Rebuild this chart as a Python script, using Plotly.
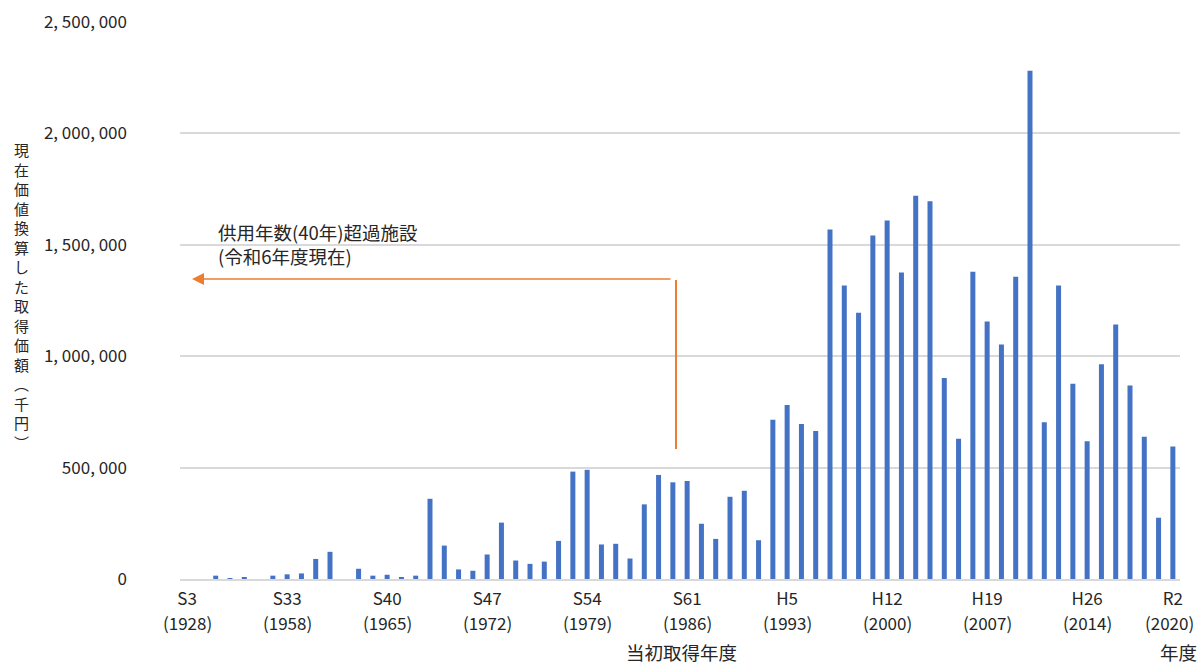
import plotly.graph_objects as go

# Acquisition year (fiscal) and the present-value acquisition cost (thousand yen)
years = ["1928"] + [str(y) for y in range(1952, 2021)]
values = [
    0,  # 1928
    0, 15000, 3000, 9000, 0, 15000,  # 1952-1957
    21000, 25000, 90000, 122000, 0, 46000, 15000,  # 1958-1964
    19000, 5000, 15000, 360000, 150000, 43000, 37000,  # 1965-1971
    110000, 253000, 83000, 68000, 78000, 171000, 482000,  # 1972-1978
    490000, 155000, 158000, 92000, 335000, 467000, 434000,  # 1979-1985
    440000, 248000, 180000, 369000, 396000, 174000, 715000,  # 1986-1992
    781000, 696000, 664000, 1569000, 1317000, 1195000, 1542000,  # 1993-1999
    1609000, 1376000, 1720000, 1696000, 902000, 629000, 1379000,  # 2000-2006
    1156000, 1052000, 1357000, 2281000, 703000, 1317000, 876000,  # 2007-2013
    618000, 964000, 1142000, 868000, 638000, 275000, 595000,  # 2014-2020
]

tick_years = ["1928", "1958", "1965", "1972", "1979", "1986", "1993",
              "2000", "2007", "2014", "2020"]
tick_eras = ["S3", "S33", "S40", "S47", "S54", "S61", "H5",
             "H12", "H19", "H26", "R2"]

y_ticks = [0, 500000, 1000000, 1500000, 2000000, 2500000]
y_tick_text = ["0", "500, 000", "1, 000, 000", "1, 500, 000", "2, 000, 000", "2, 500, 000"]

y_title = "現在価値換算した取得価額︵千円︶"

FONT = "Noto Sans CJK JP"
TEXT = "#262626"
BAR = "#4472C4"
ORANGE = "#ED7D31"

fig = go.Figure(
    go.Bar(
        x=years,
        y=values,
        marker=dict(color=BAR, line=dict(width=0)),
        hoverinfo="x+y",
    )
)

fig.update_layout(
    width=1203,
    height=664,
    margin=dict(l=180, r=23, t=22, b=85),
    paper_bgcolor="white",
    plot_bgcolor="white",
    bargap=0.65,
    showlegend=False,
    font=dict(family=FONT, size=17, color=TEXT),
)

fig.update_xaxes(
    type="category",
    range=[-0.5, len(years) - 0.5],
    automargin=False,
    tickmode="array",
    tickvals=tick_years,
    ticktext=tick_eras,
    showgrid=False,
    ticks="",
    ticklabelstandoff=4,
    showline=True,
    linecolor="#d9d9d9",
    linewidth=1.5,
    tickfont=dict(family=FONT, size=17, color=TEXT),
)

fig.update_yaxes(
    range=[0, 2500000],
    automargin=False,
    tickmode="array",
    tickvals=y_ticks,
    ticktext=y_tick_text,
    showgrid=True,
    gridcolor="#d9d9d9",
    gridwidth=1.5,
    zeroline=False,
    showline=False,
    ticks="",
    ticklabelstandoff=52,
    tickfont=dict(family=FONT, size=17, color=TEXT),
)

# Western-calendar year under each era label (category index on the x axis)
for yr in tick_years:
    fig.add_annotation(
        text=f"({yr})",
        xref="x", yref="paper",
        x=years.index(yr), y=(579 - 622) / 557,
        xanchor="center", yanchor="middle",
        xshift=-3 if yr == "2020" else 0,
        showarrow=False,
        font=dict(family=FONT, size=17, color=TEXT),
    )

# Vertical axis title, one character per line
fig.add_annotation(
    text="<br>".join(y_title),
    xref="paper", yref="paper",
    x=-0.159, y=(579 - 296) / 557,
    xanchor="center", yanchor="middle",
    showarrow=False,
    font=dict(family=FONT, size=15, color=TEXT),
)

# Horizontal axis titles
fig.add_annotation(
    text="当初取得年度",
    xref="paper", yref="paper",
    x=0.501, y=-0.131,
    xanchor="center", yanchor="middle",
    showarrow=False,
    font=dict(family=FONT, size=18.5, color=TEXT),
)
fig.add_annotation(
    text="年度",
    xref="paper", yref="paper",
    x=0.998, y=-0.131,
    xanchor="center", yanchor="middle",
    showarrow=False,
    font=dict(family=FONT, size=18.5, color=TEXT),
)

# Facilities past their 40-year service life
fig.add_annotation(
    text="供用年数(40年)超過施設",
    xref="x domain", yref="y domain",
    x=0.036, y=(579 - 232) / 557,
    xanchor="left", yanchor="middle",
    showarrow=False,
    font=dict(family=FONT, size=18.5, color=TEXT),
)
fig.add_annotation(
    text="(令和6年度現在)",
    xref="x domain", yref="y domain",
    x=0.036, y=(579 - 256) / 557,
    xanchor="left", yanchor="middle",
    showarrow=False,
    font=dict(family=FONT, size=18.5, color=TEXT),
)
fig.add_shape(
    type="line",
    xref="x domain", yref="y domain",
    x0=0.496, x1=0.496, y0=0.2334, y1=0.5368,
    line=dict(color=ORANGE, width=2),
)
fig.add_annotation(
    xref="x domain", yref="y domain",
    axref="x domain", ayref="y domain",
    x=0.012, y=0.5386,
    ax=0.492, ay=0.5386,
    text="",
    showarrow=True,
    arrowhead=2,
    arrowsize=1.6,
    arrowwidth=1.5,
    arrowcolor=ORANGE,
)

fig.write_html("out.html")
